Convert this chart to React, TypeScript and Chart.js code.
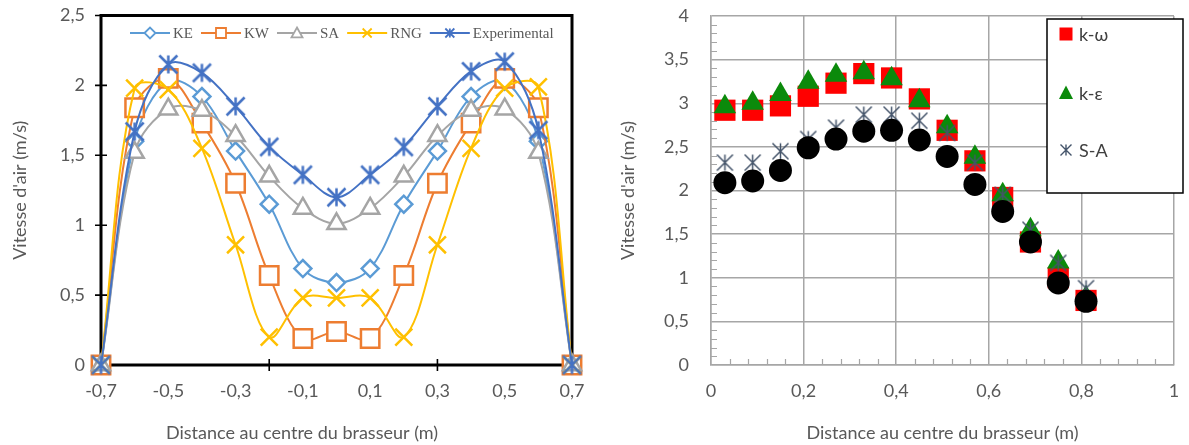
import React, { useEffect, useRef } from 'react';
import { Chart, registerables } from 'chart.js';

Chart.register(...registerables);

// ---------- Left chart data ----------
const leftPositions = [-0.7, -0.6, -0.5, -0.4, -0.3, -0.2, -0.1, 0, 0.1, 0.2, 0.3, 0.4, 0.5, 0.6, 0.7];
const keValues = [0, 1.6, 2.03, 1.92, 1.53, 1.15, 0.69, 0.59, 0.69, 1.15, 1.53, 1.92, 2.03, 1.6, 0];
const kwValues = [0, 1.84, 2.05, 1.73, 1.3, 0.64, 0.19, 0.24, 0.19, 0.64, 1.3, 1.73, 2.05, 1.84, 0];
const saValues = [0, 1.52, 1.83, 1.82, 1.64, 1.35, 1.12, 1.01, 1.12, 1.35, 1.64, 1.82, 1.83, 1.52, 0];
const rngValues = [0, 1.98, 1.97, 1.55, 0.86, 0.2, 0.48, 0.48, 0.48, 0.2, 0.86, 1.55, 1.98, 1.99, 0];
const expValues = [0, 1.67, 2.15, 2.09, 1.85, 1.56, 1.36, 1.2, 1.36, 1.56, 1.85, 2.1, 2.17, 1.68, 0];
const leftXTickLabels = [-0.7, -0.5, -0.3, -0.1, 0.1, 0.3, 0.5, 0.7];
const leftXMarks = [-0.2, 0.3];
const leftYTicks = [0, 0.5, 1, 1.5, 2, 2.5];
const leftSeriesNames = ['KE', 'KW', 'SA', 'RNG', 'Experimental'];

// ---------- Right chart data ----------
const rightPositions = [0.03, 0.09, 0.15, 0.21, 0.27, 0.33, 0.39, 0.45, 0.51, 0.57, 0.63, 0.69, 0.75, 0.81];
const kOmegaValues = [2.92, 2.92, 2.97, 3.08, 3.23, 3.34, 3.29, 3.05, 2.69, 2.34, 1.92, 1.41, 1.0, 0.74];
const kEpsilonValues = [2.96, 3.0, 3.1, 3.24, 3.32, 3.35, 3.28, 3.03, 2.73, 2.38, 1.95, 1.55, 1.18, 0.77];
const saRightValues = [2.32, 2.32, 2.45, 2.59, 2.72, 2.87, 2.87, 2.8, 2.66, 2.32, 1.95, 1.55, 1.17, 0.88];
const measuredValues = [2.09, 2.11, 2.23, 2.49, 2.59, 2.68, 2.69, 2.58, 2.39, 2.07, 1.76, 1.41, 0.94, 0.73];
const rightSeriesNames = ['k-ω', 'k-ε', 'S-A'];

const FONT = 'Lato, "Open Sans", sans-serif';
const TEXT = '#595959';
const C_KE = '#5B9BD5';
const C_KW = '#ED7D31';
const C_SA = '#A5A5A5';
const C_RNG = '#FFC000';
const C_EXP = '#4472C4';
const C_RED = '#FF0000';
const C_GREEN = '#0B8A0B';
const C_STAR = '#44546A';

const fmt = (v: number) => String(Math.round(v * 100) / 100).replace('.', ',');
const pts = (xs: number[], ys: number[]) => xs.map((x, i) => ({ x, y: ys[i] }));

function makeStar(half: number, color: string, lw: number): HTMLCanvasElement {
  const size = Math.ceil(half * 2 + lw * 2 + 2);
  const c = document.createElement('canvas');
  c.width = size;
  c.height = size;
  const g = c.getContext('2d')!;
  const m = size / 2;
  g.strokeStyle = color;
  g.lineWidth = lw;
  g.beginPath();
  g.moveTo(m - half, m - half); g.lineTo(m + half, m + half);
  g.moveTo(m + half, m - half); g.lineTo(m - half, m + half);
  g.moveTo(m, m - half); g.lineTo(m, m + half);
  g.stroke();
  return c;
}

function drawMarker(ctx: CanvasRenderingContext2D, style: string, x: number, y: number, r: number,
  stroke: string, fill: string | null, lw: number) {
  ctx.save();
  ctx.strokeStyle = stroke;
  ctx.lineWidth = lw;
  ctx.beginPath();
  if (style === 'diamond') {
    ctx.moveTo(x - r, y); ctx.lineTo(x, y - r); ctx.lineTo(x + r, y); ctx.lineTo(x, y + r); ctx.closePath();
  } else if (style === 'square') {
    ctx.rect(x - r, y - r, 2 * r, 2 * r);
  } else if (style === 'triangle') {
    ctx.moveTo(x, y - r); ctx.lineTo(x + r, y + r * 0.8); ctx.lineTo(x - r, y + r * 0.8); ctx.closePath();
  } else if (style === 'x') {
    ctx.moveTo(x - r, y - r); ctx.lineTo(x + r, y + r); ctx.moveTo(x + r, y - r); ctx.lineTo(x - r, y + r);
  } else if (style === 'star') {
    ctx.moveTo(x - r, y - r); ctx.lineTo(x + r, y + r); ctx.moveTo(x + r, y - r); ctx.lineTo(x - r, y + r);
    ctx.moveTo(x, y - r); ctx.lineTo(x, y + r);
  }
  if (fill) { ctx.fillStyle = fill; ctx.fill(); }
  if (stroke !== 'none') ctx.stroke();
  ctx.restore();
}

const leftLegendStyles = ['diamond', 'square', 'triangle', 'x', 'star'];
const leftLegendColors = [C_KE, C_KW, C_SA, C_RNG, C_EXP];

const leftPlugin = {
  id: 'leftDecor',
  beforeDatasetsDraw(chart: any) {
    const { ctx, chartArea: a, scales } = chart;
    const x = scales.x, y = scales.y;
    ctx.save();
    ctx.strokeStyle = '#000';
    ctx.lineWidth = 3;
    ctx.strokeRect(a.left, a.top, a.right - a.left, a.bottom - a.top);
    ctx.lineWidth = 1.6;
    ctx.beginPath();
    leftYTicks.forEach((v) => {
      const py = y.getPixelForValue(v);
      ctx.moveTo(a.left - 6, py); ctx.lineTo(a.left + 6, py);
    });
    leftXMarks.forEach((v) => {
      const px = x.getPixelForValue(v);
      ctx.moveTo(px, a.bottom - 6); ctx.lineTo(px, a.bottom + 6);
    });
    ctx.stroke();
    ctx.restore();
  },
  afterDraw(chart: any) {
    const { ctx } = chart;
    ctx.save();
    ctx.fillStyle = TEXT;
    ctx.font = `18px ${FONT}`;
    ctx.textAlign = 'center';
    ctx.textBaseline = 'middle';
    ctx.fillText('Distance au centre du brasseur (m)', 302, 433);
    let lx = 130;
    const ly = 33;
    ctx.font = '15px "Liberation Serif", "DejaVu Serif", serif';
    ctx.textAlign = 'left';
    leftSeriesNames.forEach((name, i) => {
      const col = leftLegendColors[i];
      ctx.strokeStyle = col;
      ctx.lineWidth = 2;
      ctx.beginPath();
      ctx.moveTo(lx, ly); ctx.lineTo(lx + 40, ly);
      ctx.stroke();
      const st = leftLegendStyles[i];
      const fill = st === 'x' || st === 'star' ? null : '#fff';
      const r = st === 'square' ? 5 : st === 'x' || st === 'star' ? 4.5 : 5.5;
      drawMarker(ctx, st, lx + 20, ly, r, col, fill, 1.8);
      ctx.fillStyle = TEXT;
      ctx.fillText(name, lx + 43, ly + 1);
      lx += 43 + ctx.measureText(name).width + 8;
    });
    ctx.restore();
  },
};

const rightPlugin = {
  id: 'rightDecor',
  beforeDatasetsDraw(chart: any) {
    const { ctx, chartArea: a, scales } = chart;
    const x = scales.x, y = scales.y;
    ctx.save();
    ctx.strokeStyle = '#A6A6A6';
    ctx.lineWidth = 1.2;
    ctx.beginPath();
    for (let i = 1; i < 40; i++) {
      if (i % 5 === 0) continue;
      const py = Math.round(y.getPixelForValue(i / 10)) + 0.5;
      ctx.moveTo(a.left, py); ctx.lineTo(a.left + 6, py);
    }
    for (let i = 1; i < 25; i++) {
      if (i % 5 === 0) continue;
      const px = Math.round(x.getPixelForValue(i * 0.04)) + 0.5;
      ctx.moveTo(px, a.bottom); ctx.lineTo(px, a.bottom - 6);
    }
    ctx.stroke();
    ctx.restore();
  },
  afterDraw(chart: any) {
    const { ctx } = chart;
    ctx.save();
    const bx = 447, by = 19, bw = 136, bh = 174;
    ctx.fillStyle = '#fff';
    ctx.fillRect(bx, by, bw, bh);
    ctx.strokeStyle = '#000';
    ctx.lineWidth = 1.5;
    ctx.strokeRect(bx, by, bw, bh);
    const rows = [34, 93, 150];
    ctx.font = `18px ${FONT}`;
    ctx.textAlign = 'left';
    ctx.textBaseline = 'middle';
    rows.forEach((ry, i) => {
      const mx = 466;
      if (i === 0) {
        ctx.fillStyle = C_RED;
        ctx.fillRect(mx - 6.5, ry - 6.5, 13, 13);
      } else if (i === 1) {
        ctx.fillStyle = C_GREEN;
        ctx.beginPath();
        ctx.moveTo(mx, ry - 7.5); ctx.lineTo(mx + 7, ry + 6); ctx.lineTo(mx - 7, ry + 6); ctx.closePath();
        ctx.fill();
      } else {
        drawMarker(ctx, 'star', mx, ry, 5.5, C_STAR, null, 1.4);
      }
      ctx.fillStyle = '#404040';
      ctx.fillText(rightSeriesNames[i], 479, ry + 1);
    });
    ctx.restore();
  },
};

const fixX = (h: number) => (s: any) => { s.height = h; s.paddingLeft = 0; s.paddingRight = 0; };
const fixY = (w: number) => (s: any) => { s.width = w; s.paddingTop = 0; s.paddingBottom = 0; };

function LeftChart() {
  const ref = useRef<HTMLCanvasElement>(null);
  useEffect(() => {
    const star = makeStar(9, C_EXP, 2.5);
    const common = { borderWidth: 2, tension: 0.35, clip: false as any, pointBorderWidth: 2.5, pointBackgroundColor: '#fff' };
    const chart = new Chart(ref.current!, {
      type: 'line',
      data: {
        datasets: [
          { label: leftSeriesNames[0], data: pts(leftPositions, keValues), borderColor: C_KE, pointBorderColor: C_KE, pointStyle: 'rectRot', pointRadius: 8.5, order: 5, ...common },
          { label: leftSeriesNames[1], data: pts(leftPositions, kwValues), borderColor: C_KW, pointBorderColor: C_KW, pointStyle: 'rect', pointRadius: 13, order: 4, ...common },
          { label: leftSeriesNames[2], data: pts(leftPositions, saValues), borderColor: C_SA, pointBorderColor: C_SA, pointStyle: 'triangle', pointRadius: 10.5, order: 3, ...common },
          { label: leftSeriesNames[3], data: pts(leftPositions, rngValues), borderColor: C_RNG, pointBorderColor: C_RNG, pointStyle: 'crossRot', pointRadius: 12, order: 2, ...common },
          { label: leftSeriesNames[4], data: pts(leftPositions, expValues), borderColor: C_EXP, pointBorderColor: C_EXP, pointStyle: star as any, pointRadius: 9, order: 1, ...common },
        ],
      },
      options: {
        animation: false,
        responsive: true,
        maintainAspectRatio: false,
        events: [],
        layout: { padding: { top: 15, right: 28, left: 0, bottom: 0 } },
        plugins: { legend: { display: false }, tooltip: { enabled: false } },
        scales: {
          x: {
            type: 'linear',
            min: -0.7,
            max: 0.7,
            afterBuildTicks: (s: any) => { s.ticks = leftXTickLabels.map((v) => ({ value: v })); },
            afterFit: fixX(80),
            grid: { display: false, drawTicks: false },
            border: { display: false },
            ticks: { callback: (v: any) => fmt(Number(v)), color: TEXT, font: { family: FONT, size: 18 }, padding: 15, maxRotation: 0, autoSkip: false },
          },
          y: {
            type: 'linear',
            min: 0,
            max: 2.5,
            afterBuildTicks: (s: any) => { s.ticks = leftYTicks.map((v) => ({ value: v })); },
            afterFit: fixY(101),
            grid: { display: false, drawTicks: false },
            border: { display: false },
            ticks: { callback: (v: any) => fmt(Number(v)), color: TEXT, font: { family: FONT, size: 18 }, padding: 16 },
            title: { display: true, text: "Vitesse d'air (m/s)", color: TEXT, font: { family: FONT, size: 18 }, padding: { top: 9, bottom: 0 } },
          },
        },
      },
      plugins: [leftPlugin],
    } as any);
    return () => chart.destroy();
  }, []);
  return <canvas ref={ref} />;
}

function RightChart() {
  const ref = useRef<HTMLCanvasElement>(null);
  useEffect(() => {
    const star = makeStar(8, C_STAR, 1.5);
    const common = { showLine: false, clip: false as any, pointBorderWidth: 0 };
    const chart = new Chart(ref.current!, {
      type: 'scatter',
      data: {
        datasets: [
          { label: rightSeriesNames[0], data: pts(rightPositions, kOmegaValues), pointStyle: 'rect', pointRadius: 15, pointBackgroundColor: C_RED, pointBorderColor: C_RED, order: 4, ...common },
          { label: rightSeriesNames[1], data: pts(rightPositions, kEpsilonValues), pointStyle: 'triangle', pointRadius: 13, pointBackgroundColor: C_GREEN, pointBorderColor: C_GREEN, order: 3, ...common },
          { label: rightSeriesNames[2], data: pts(rightPositions, saRightValues), pointStyle: star as any, pointRadius: 8, order: 2, ...common },
          { label: 'Mesures', data: pts(rightPositions, measuredValues), pointStyle: 'circle', pointRadius: 11.5, pointBackgroundColor: '#000', pointBorderColor: '#000', order: 1, ...common },
        ],
      },
      options: {
        animation: false,
        responsive: true,
        maintainAspectRatio: false,
        events: [],
        layout: { padding: { top: 16, right: 7, left: 0, bottom: 0 } },
        plugins: { legend: { display: false }, tooltip: { enabled: false } },
        scales: {
          x: {
            type: 'linear',
            min: 0,
            max: 1,
            ticks: { stepSize: 0.2, callback: (v: any) => fmt(Number(v)), color: TEXT, font: { family: FONT, size: 18 }, padding: 15, maxRotation: 0 },
            afterFit: fixX(80),
            grid: { color: '#A6A6A6', lineWidth: 1.5, drawTicks: false },
            border: { color: '#A6A6A6', width: 1.5 },
            title: { display: true, text: 'Distance au centre du brasseur (m)', color: TEXT, font: { family: FONT, size: 18 }, padding: { top: 0, bottom: 1 } },
          },
          y: {
            type: 'linear',
            min: 0,
            max: 4,
            ticks: { stepSize: 0.5, callback: (v: any) => fmt(Number(v)), color: TEXT, font: { family: FONT, size: 18 }, padding: 22 },
            afterFit: fixY(111),
            grid: { color: '#A6A6A6', lineWidth: 1.5, drawTicks: false },
            border: { color: '#A6A6A6', width: 1.5 },
            title: { display: true, text: "Vitesse d'air (m/s)", color: TEXT, font: { family: FONT, size: 18 }, padding: { top: 17, bottom: 0 } },
          },
        },
      },
      plugins: [rightPlugin],
    } as any);
    return () => chart.destroy();
  }, []);
  return <canvas ref={ref} />;
}

export default function App() {
  return (
    <div style={{ position: 'absolute', left: 0, top: 0, width: 1189, height: 445, background: '#fff' }}>
      <div style={{ position: 'absolute', left: 0, top: 0, width: 600, height: 445 }}>
        <LeftChart />
      </div>
      <div style={{ position: 'absolute', left: 600, top: 0, width: 589, height: 445 }}>
        <RightChart />
      </div>
    </div>
  );
}
